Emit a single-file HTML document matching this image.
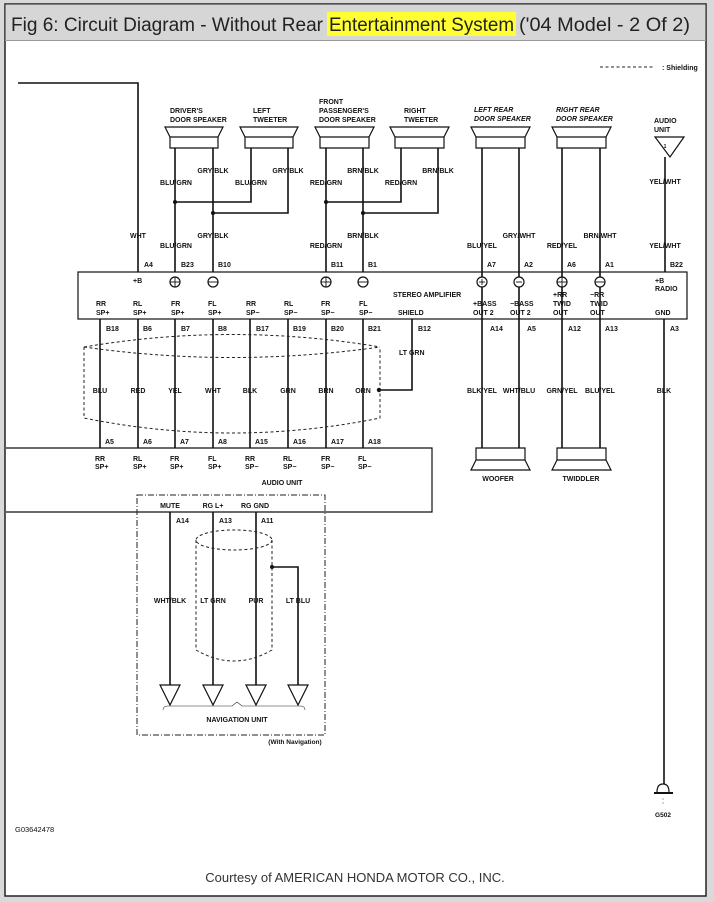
<!DOCTYPE html>
<html><head><meta charset="utf-8"><style>
html,body{margin:0;padding:0;background:#fff}
body{width:714px;height:902px;overflow:hidden}
svg{display:block}
text{font-family:"Liberation Sans",sans-serif;font-weight:bold;font-size:7px;fill:#111}
.c{text-anchor:middle}
.ti{font-weight:normal;font-size:19px;fill:#222}
</style></head><body>
<svg width="714" height="902" viewBox="0 0 714 902" xmlns="http://www.w3.org/2000/svg">
<rect x="0" y="0" width="714" height="902" fill="#d9d9d9"/>
<rect x="5" y="4" width="701" height="892" fill="#fff" stroke="#222" stroke-width="1.5"/>
<rect x="5.5" y="4.5" width="700" height="36" fill="#d6d6d6"/>
<line x1="5" y1="40.5" x2="706" y2="40.5" stroke="#999"/>
<rect x="327" y="12" width="189" height="24" fill="#ffff33"/>
<text x="11" y="31" class="ti" textLength="312" lengthAdjust="spacingAndGlyphs">Fig 6: Circuit Diagram - Without Rear</text>
<text x="329" y="31" class="ti" textLength="185" lengthAdjust="spacingAndGlyphs">Entertainment System</text>
<text x="519" y="31" class="ti" textLength="171" lengthAdjust="spacingAndGlyphs">('04 Model - 2 Of 2)</text>

<g stroke="#111" stroke-width="1.6" fill="none">
<polyline points="18,83 138,83 138,272"/>
<rect x="78" y="272" width="609" height="47" stroke-width="1.2"/>
<line x1="175" y1="148" x2="175" y2="272"/><line x1="213" y1="148" x2="213" y2="272"/>
<polyline points="251,148 251,202 175,202"/><polyline points="288,148 288,213 213,213"/>
<line x1="326" y1="148" x2="326" y2="272"/><line x1="363" y1="148" x2="363" y2="272"/>
<polyline points="401,148 401,202 326,202"/><polyline points="438,148 438,213 363,213"/>
<line x1="482" y1="148" x2="482" y2="448"/><line x1="519" y1="148" x2="519" y2="448"/>
<line x1="562" y1="148" x2="562" y2="448"/><line x1="600" y1="148" x2="600" y2="448"/>
<line x1="665" y1="157" x2="665" y2="272"/>
<line x1="664" y1="319" x2="664" y2="785"/>
<line x1="100" y1="319" x2="100" y2="448"/><line x1="138" y1="319" x2="138" y2="448"/>
<line x1="175" y1="319" x2="175" y2="448"/><line x1="213" y1="319" x2="213" y2="448"/>
<line x1="250" y1="319" x2="250" y2="448"/><line x1="288" y1="319" x2="288" y2="448"/>
<line x1="326" y1="319" x2="326" y2="448"/><line x1="363" y1="319" x2="363" y2="448"/>
<polyline points="412,319 412,390 379,390"/>
<polyline points="6,448 432,448 432,512 6,512" stroke-width="1.2"/>
<line x1="170" y1="512" x2="170" y2="685"/><line x1="213" y1="512" x2="213" y2="685"/>
<line x1="256" y1="512" x2="256" y2="685"/><polyline points="272,567 298,567 298,685"/>
</g>
<g fill="#111">
<circle cx="175" cy="202" r="2"/><circle cx="213" cy="213" r="2"/>
<circle cx="326" cy="202" r="2"/><circle cx="363" cy="213" r="2"/>
<circle cx="379" cy="390" r="2.2"/><circle cx="272" cy="567" r="2"/>
</g>
<g stroke="#111" stroke-width="1.2" fill="#fff">
<path d="M165,127 H223 L218,137 V148 H170 V137 Z"/><line x1="170" y1="137" x2="218" y2="137"/>
<path d="M240,127 H298 L293,137 V148 H245 V137 Z"/><line x1="245" y1="137" x2="293" y2="137"/>
<path d="M315,127 H374 L369,137 V148 H320 V137 Z"/><line x1="320" y1="137" x2="369" y2="137"/>
<path d="M390,127 H449 L444,137 V148 H395 V137 Z"/><line x1="395" y1="137" x2="444" y2="137"/>
<path d="M471,127 H530 L525,137 V148 H476 V137 Z"/><line x1="476" y1="137" x2="525" y2="137"/>
<path d="M552,127 H611 L606,137 V148 H557 V137 Z"/><line x1="557" y1="137" x2="606" y2="137"/>
<path d="M655,137 H684 L670,157 Z"/>
<path d="M476,448 H525 V460 L530,470 H471 L476,460 Z"/><line x1="476" y1="460" x2="525" y2="460"/>
<path d="M557,448 H606 V460 L611,470 H552 L557,460 Z"/><line x1="557" y1="460" x2="606" y2="460"/>
<circle cx="175" cy="282" r="5"/><circle cx="213" cy="282" r="5"/>
<circle cx="326" cy="282" r="5"/><circle cx="363" cy="282" r="5"/>
<circle cx="482" cy="282" r="5"/><circle cx="519" cy="282" r="5"/>
<circle cx="562" cy="282" r="5"/><circle cx="600" cy="282" r="5"/>
<path d="M160,685 H180 L170,705 Z"/><path d="M203,685 H223 L213,705 Z"/>
<path d="M246,685 H266 L256,705 Z"/><path d="M288,685 H308 L298,705 Z"/>
</g>
<g stroke="#111" stroke-width="0.9" fill="none">
<line x1="170" y1="282" x2="180" y2="282"/><line x1="175" y1="277" x2="175" y2="287"/>
<line x1="208" y1="282" x2="218" y2="282"/>
<line x1="321" y1="282" x2="331" y2="282"/><line x1="326" y1="277" x2="326" y2="287"/>
<line x1="358" y1="282" x2="368" y2="282"/>
<line x1="479" y1="282" x2="485" y2="282"/><line x1="482" y1="279" x2="482" y2="285"/>
<line x1="516" y1="282" x2="522" y2="282"/>
<line x1="557" y1="282" x2="567" y2="282"/><line x1="562" y1="277" x2="562" y2="287"/>
<line x1="595" y1="282" x2="605" y2="282"/>
</g>
<g stroke="#222" stroke-width="1" fill="none" stroke-dasharray="3,2.5">
<line x1="600" y1="67" x2="655" y2="67"/>
<path d="M84,347 Q232,322 380,347"/>
<path d="M84,347 Q232,368 380,347"/>
<path d="M84,347 V418 Q232,448 380,418 V347"/>
<ellipse cx="234" cy="540" rx="38" ry="10"/>
<path d="M196,540 V650 Q234,672 272,650 V540"/>
<path d="M137,495 H325 V735 H137 Z" stroke-dasharray="6,2,1,2"/>
<path d="M163,710 Q163,706 168,706 H232 L237,702 L242,706 H300 Q305,706 305,710" stroke-dasharray="none" stroke-width="0.6"/>
</g>
<g stroke="#111" fill="#fff">
<path d="M657,792 Q657,784 663,784 Q669,784 669,792" stroke-width="1.2"/>
<line x1="654" y1="793" x2="673" y2="793" stroke-width="2"/>
<line x1="663" y1="798" x2="663" y2="806" stroke="#aaa" stroke-dasharray="2,2"/>
</g>

<text x="662" y="70">: Shielding</text>
<text x="170" y="113">DRIVER'S</text><text x="170" y="122">DOOR SPEAKER</text>
<text x="253" y="113">LEFT</text><text x="253" y="122">TWEETER</text>
<text x="319" y="104">FRONT</text><text x="319" y="113">PASSENGER'S</text><text x="319" y="122">DOOR SPEAKER</text>
<text x="404" y="113">RIGHT</text><text x="404" y="122">TWEETER</text>
<text x="474" y="112" style="font-style:italic">LEFT REAR</text><text x="474" y="121" style="font-style:italic">DOOR SPEAKER</text>
<text x="556" y="112" style="font-style:italic">RIGHT REAR</text><text x="556" y="121" style="font-style:italic">DOOR SPEAKER</text>
<text x="654" y="123">AUDIO</text><text x="654" y="132">UNIT</text>
<text x="665" y="148" class="c" style="font-size:5px">1</text>
<text x="176" y="185" class="c">BLU/GRN</text><text x="213" y="173" class="c">GRY/BLK</text>
<text x="251" y="185" class="c">BLU/GRN</text><text x="288" y="173" class="c">GRY/BLK</text>
<text x="326" y="185" class="c">RED/GRN</text><text x="363" y="173" class="c">BRN/BLK</text>
<text x="401" y="185" class="c">RED/GRN</text><text x="438" y="173" class="c">BRN/BLK</text>
<text x="665" y="184" class="c">YEL/WHT</text>
<text x="138" y="238" class="c">WHT</text>
<text x="176" y="248" class="c">BLU/GRN</text><text x="213" y="238" class="c">GRY/BLK</text>
<text x="326" y="248" class="c">RED/GRN</text><text x="363" y="238" class="c">BRN/BLK</text>
<text x="482" y="248" class="c">BLU/YEL</text><text x="519" y="238" class="c">GRY/WHT</text>
<text x="562" y="248" class="c">RED/YEL</text><text x="600" y="238" class="c">BRN/WHT</text>
<text x="665" y="248" class="c">YEL/WHT</text>
<text x="144" y="267">A4</text><text x="181" y="267">B23</text><text x="218" y="267">B10</text>
<text x="331" y="267">B11</text><text x="368" y="267">B1</text>
<text x="487" y="267">A7</text><text x="524" y="267">A2</text><text x="567" y="267">A6</text><text x="605" y="267">A1</text><text x="670" y="267">B22</text>
<text x="133" y="283">+B</text>
<text x="393" y="297">STEREO AMPLIFIER</text>
<text x="398" y="315">SHIELD</text>
<text x="655" y="283">+B</text><text x="655" y="291">RADIO</text>
<text x="655" y="315">GND</text>
<text x="473" y="306">+BASS</text><text x="473" y="315">OUT 2</text>
<text x="510" y="306">−BASS</text><text x="510" y="315">OUT 2</text>
<text x="553" y="297">+RR</text><text x="553" y="306">TWID</text><text x="553" y="315">OUT</text>
<text x="590" y="297">−RR</text><text x="590" y="306">TWID</text><text x="590" y="315">OUT</text>
<text x="96" y="306">RR</text><text x="96" y="315">SP+</text>
<text x="133" y="306">RL</text><text x="133" y="315">SP+</text>
<text x="171" y="306">FR</text><text x="171" y="315">SP+</text>
<text x="208" y="306">FL</text><text x="208" y="315">SP+</text>
<text x="246" y="306">RR</text><text x="246" y="315">SP−</text>
<text x="284" y="306">RL</text><text x="284" y="315">SP−</text>
<text x="321" y="306">FR</text><text x="321" y="315">SP−</text>
<text x="359" y="306">FL</text><text x="359" y="315">SP−</text>
<text x="106" y="331">B18</text><text x="143" y="331">B6</text><text x="181" y="331">B7</text><text x="218" y="331">B8</text>
<text x="256" y="331">B17</text><text x="293" y="331">B19</text><text x="331" y="331">B20</text><text x="368" y="331">B21</text><text x="418" y="331">B12</text>
<text x="490" y="331">A14</text><text x="527" y="331">A5</text><text x="568" y="331">A12</text><text x="605" y="331">A13</text><text x="670" y="331">A3</text>
<text x="399" y="355">LT GRN</text>
<text x="100" y="393" class="c">BLU</text><text x="138" y="393" class="c">RED</text><text x="175" y="393" class="c">YEL</text><text x="213" y="393" class="c">WHT</text>
<text x="250" y="393" class="c">BLK</text><text x="288" y="393" class="c">GRN</text><text x="326" y="393" class="c">BRN</text><text x="363" y="393" class="c">ORN</text>
<text x="482" y="393" class="c">BLK/YEL</text><text x="519" y="393" class="c">WHT/BLU</text><text x="562" y="393" class="c">GRN/YEL</text><text x="600" y="393" class="c">BLU/YEL</text>
<text x="664" y="393" class="c">BLK</text>
<text x="105" y="444">A5</text><text x="143" y="444">A6</text><text x="180" y="444">A7</text><text x="218" y="444">A8</text>
<text x="255" y="444">A15</text><text x="293" y="444">A16</text><text x="331" y="444">A17</text><text x="368" y="444">A18</text>
<text x="95" y="461">RR</text><text x="95" y="469">SP+</text>
<text x="133" y="461">RL</text><text x="133" y="469">SP+</text>
<text x="170" y="461">FR</text><text x="170" y="469">SP+</text>
<text x="208" y="461">FL</text><text x="208" y="469">SP+</text>
<text x="245" y="461">RR</text><text x="245" y="469">SP−</text>
<text x="283" y="461">RL</text><text x="283" y="469">SP−</text>
<text x="321" y="461">FR</text><text x="321" y="469">SP−</text>
<text x="358" y="461">FL</text><text x="358" y="469">SP−</text>
<text x="282" y="485" class="c">AUDIO UNIT</text>
<text x="498" y="481" class="c">WOOFER</text><text x="581" y="481" class="c">TWIDDLER</text>
<text x="170" y="508" class="c">MUTE</text><text x="213" y="508" class="c">RG L+</text><text x="255" y="508" class="c">RG GND</text>
<text x="176" y="523">A14</text><text x="219" y="523">A13</text><text x="261" y="523">A11</text>
<text x="170" y="603" class="c">WHT/BLK</text><text x="213" y="603" class="c">LT GRN</text><text x="256" y="603" class="c">PUR</text><text x="298" y="603" class="c">LT BLU</text>
<text x="237" y="722" class="c">NAVIGATION UNIT</text>
<text x="295" y="744" class="c" style="font-size:6.5px">(With Navigation)</text>
<text x="663" y="817" class="c" style="font-size:6.5px">G502</text>
<text x="15" y="832" style="font-weight:normal;font-size:7.5px">G03642478</text>
<text x="355" y="882" class="c" style="font-weight:normal;font-size:13px;fill:#333">Courtesy of AMERICAN HONDA MOTOR CO., INC.</text>
</svg>
</body></html>
